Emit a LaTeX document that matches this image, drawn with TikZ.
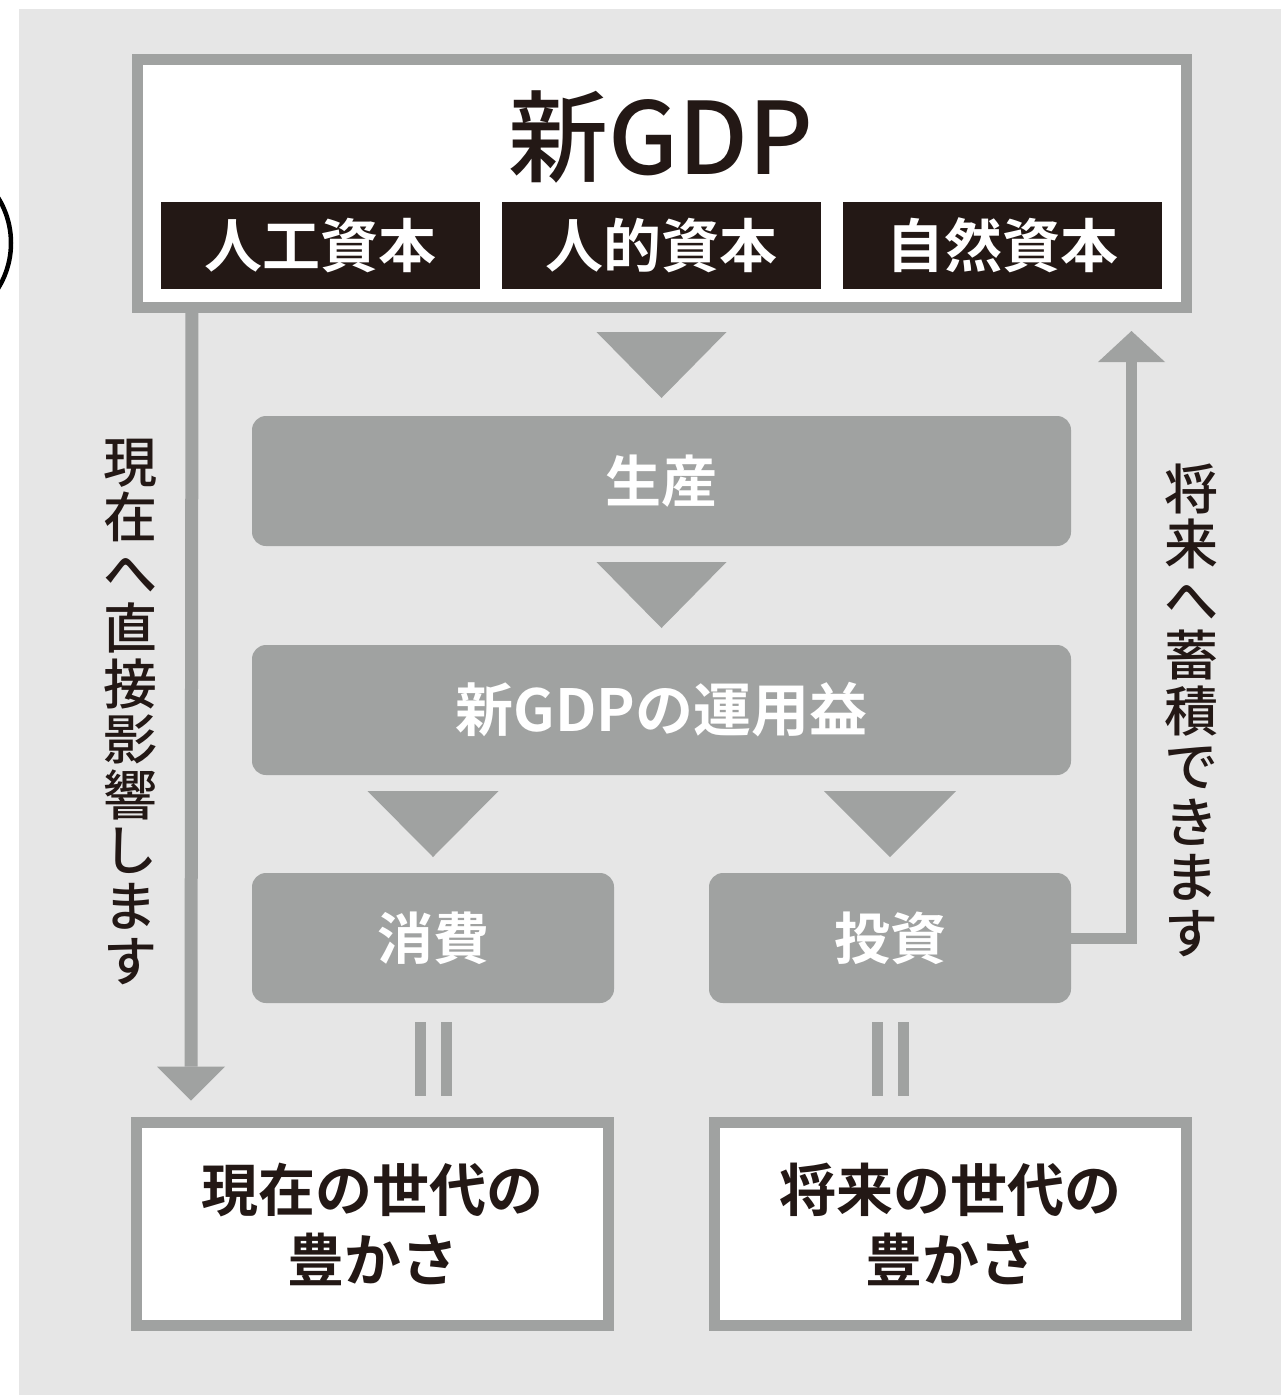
\documentclass[tikz,border=0pt]{standalone}
\usepackage{fontspec}
\usetikzlibrary{calc}
\setmainfont{Noto Sans CJK JP}
\newfontfamily\jpr{Noto Sans CJK JP}
\newfontfamily\jpb{Noto Sans CJK JP Bold}
\newfontfamily\jpm{Noto Sans CJK JP Medium}
\definecolor{lgray}{HTML}{A0A2A1}
\definecolor{bgc}{HTML}{E6E6E6}
\definecolor{ink}{HTML}{231815}
\tikzset{
  frame/.style={draw=lgray, line width=11pt, fill=white, inner sep=0pt, outer sep=0pt},
  capbox/.style={fill=ink, text=white, minimum width=319pt, minimum height=87pt, inner sep=0pt, outer sep=0pt, font=\jpb\fontsize{58pt}{58pt}\selectfont},
  flowbox/.style={fill=lgray, rounded corners=14pt, text=white, minimum height=130pt, inner sep=0pt, outer sep=0pt, font=\jpb\fontsize{56pt}{56pt}\selectfont},
  vtext/.style={text=ink, align=center, inner sep=0pt, font=\jpm\fontsize{54pt}{55.5pt}\selectfont},
  endbox/.style={frame, text=ink, align=center, minimum width=472pt, minimum height=203pt, font=\jpb\fontsize{57pt}{70pt}\selectfont},
  conn/.style={draw=lgray, line width=12pt},
  tri/.style={fill=lgray},
}
\begin{document}
\begin{tikzpicture}[x=1pt,y=-1pt]
\useasboundingbox (0,0) rectangle (1281,1395);
\fill[white] (0,0) rectangle (1281,1395);
\fill[bgc] (19,9) rectangle (1281,1395);
% partial circle at the left edge
\begin{scope}
\clip (0,0) rectangle (19,1395);
\draw[black, line width=4.5pt] (-75,243) circle[radius=86];
\end{scope}

% top box
\node[frame, minimum width=1049pt, minimum height=248pt] (top) at (662,183.5) {};
\node[text=ink, inner sep=0pt, anchor=base, font=\jpm\fontsize{100pt}{100pt}\selectfont] (title) at (661,174) {新GDP};
\node[capbox] (c1) at (320,245.5) {人工資本};
\node[capbox] (c2) at (661.5,245.5) {人的資本};
\node[capbox] (c3) at (1002.5,245.5) {自然資本};

% flow boxes
\node[flowbox, minimum width=819pt] (prod) at (661.5,481) {生産};
\node[flowbox, minimum width=819pt, font=\jpb\fontsize{58pt}{58pt}\selectfont] (gain) at (661.5,710) {新GDPの運用益};
\node[flowbox, minimum width=362pt] (cons) at (433,938) {消費};
\node[flowbox, minimum width=362pt] (inv) at (890,938) {投資};

% bottom boxes
\node[endbox] (now) at (372.5,1224) {現在の世代の\\豊かさ};
\node[endbox] (fut) at (950.5,1224) {将来の世代の\\豊かさ};

% flow triangles
\fill[tri] ($(prod.north)+(-65,-84)$) -- ($(prod.north)+(65,-84)$) -- ($(prod.north)+(0,-18)$) -- cycle;
\fill[tri] ($(gain.north)+(-65,-83)$) -- ($(gain.north)+(65,-83)$) -- ($(gain.north)+(0,-17)$) -- cycle;
\fill[tri] ($(cons.north)+(-65.5,-82)$) -- ($(cons.north)+(65.5,-82)$) -- ($(cons.north)+(0,-16)$) -- cycle;
\fill[tri] ($(inv.north)+(-66,-82)$) -- ($(inv.north)+(66,-82)$) -- ($(inv.north)+(0,-16)$) -- cycle;

% equals signs
\foreach \b in {cons,inv}{
  \draw[lgray, line width=11pt] ($(\b.south)+(-12.5,19)$) -- ($(\b.south)+(-12.5,93)$);
  \draw[lgray, line width=11pt] ($(\b.south)+(13,19)$) -- ($(\b.south)+(13,93)$);
}

% left connector: top box -> present generation
\coordinate (lstart) at ($(top.south west)+(54.5,0)$);
\coordinate (lend) at ($(now.north west)+(54.5,-56)$);
\draw[conn, line width=13pt] (lstart) -- (lend);
\fill[tri] ($(lend)+(-34,0)$) -- ($(lend)+(34,0)$) -- ($(lend)+(0,34)$) -- cycle;
\node[vtext] (ltext) at (130,712) {現\\在\\へ\\直\\接\\影\\響\\し\\ま\\す};

% right connector: investment -> top box
\coordinate (rend) at (1131.5,362);
\draw[conn, line width=11pt] (inv.east) -| (rend);
\fill[tri] ($(rend)+(-33.5,0)$) -- ($(rend)+(33.5,0)$) -- ($(rend)+(0,-31)$) -- cycle;
\node[vtext] (rtext) at (1191,710) {将\\来\\へ\\蓄\\積\\で\\き\\ま\\す};
\end{tikzpicture}
\end{document}
